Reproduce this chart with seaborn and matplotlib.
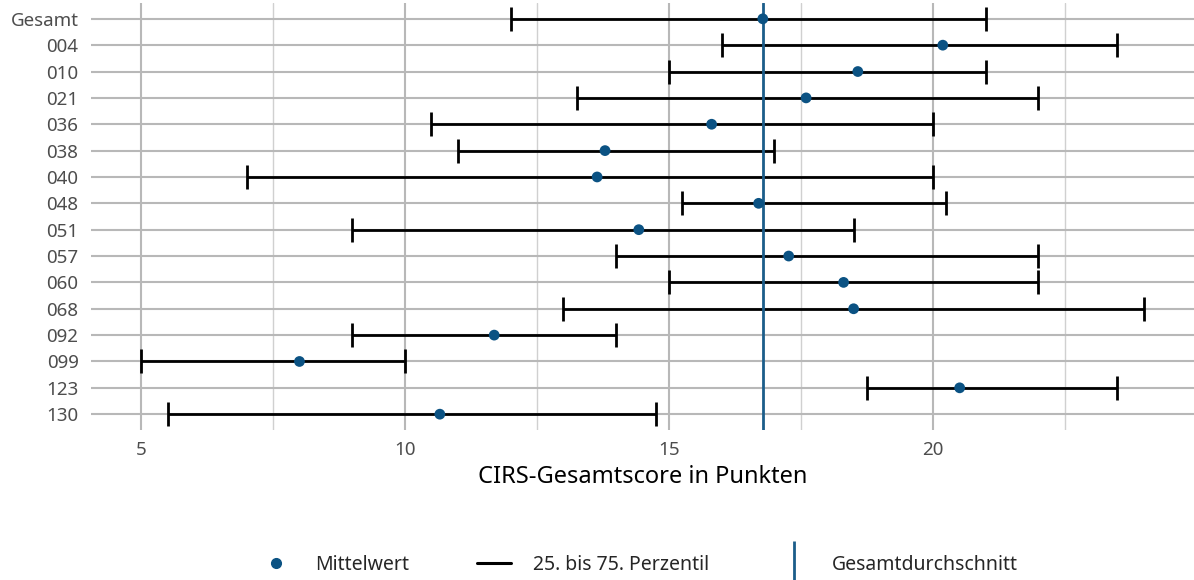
import numpy as np
import pandas as pd
import matplotlib.pyplot as plt
import seaborn as sns
from matplotlib.lines import Line2D
from matplotlib.ticker import MultipleLocator

# Values
stations = ["Gesamt", "004", "010", "021", "036", "038", "040", "048",
            "051", "057", "060", "068", "092", "099", "123", "130"]
mean_score = [16.78, 20.19, 18.58, 17.6, 15.81, 13.79, 13.64, 16.7,
              14.43, 17.27, 18.31, 18.5, 11.69, 8.0, 20.51, 10.66]
p25 = [12, 16, 15, 13.25, 10.5, 11, 7, 15.25,
       9, 14, 15, 13, 9, 5, 18.75, 5.5]
p75 = [21, 23.5, 21, 22, 20, 17, 20, 20.25,
       18.5, 22, 22, 24, 14, 10, 23.5, 14.75]

blue = "#0b5283"
line_blue = "#1b5d8a"

df = pd.DataFrame({"Station": stations, "Mittelwert": mean_score,
                   "P25": p25, "P75": p75})
df["pos"] = np.arange(len(df))

sns.set_theme(style="whitegrid")
plt.rcParams["font.family"] = ["Noto Sans", "DejaVu Sans"]

fig = plt.figure(figsize=(11.94, 5.8), dpi=100)
ax = fig.add_axes([91 / 1194, 150 / 580, 1 - 91 / 1194, 427 / 580])

# interquartile range bars
ax.errorbar(df["Mittelwert"], df["pos"],
            xerr=[df["Mittelwert"] - df["P25"], df["P75"] - df["Mittelwert"]],
            fmt="none", ecolor="black", elinewidth=2.0, capsize=8.6,
            capthick=2.0, zorder=2)

# overall mean
ax.axvline(df["Mittelwert"].iloc[0], color=line_blue, lw=2.0, zorder=3)

sns.scatterplot(data=df, x="Mittelwert", y="pos", color=blue, s=60,
                edgecolor="none", zorder=4, ax=ax, legend=False)

ax.set_xlim(4.05, 24.95)
ax.set_ylim(len(df) - 0.4, -0.6)
ax.set_xticks([5, 10, 15, 20])
ax.xaxis.set_minor_locator(MultipleLocator(2.5))
ax.set_yticks(df["pos"])
ax.set_yticklabels(df["Station"])

ax.grid(which="major", axis="both", color="#b8b8b8", lw=1.5)
ax.grid(which="minor", axis="x", color="#d0d0d0", lw=1.0)
ax.set_axisbelow(True)
for s in ax.spines.values():
    s.set_visible(False)
ax.tick_params(axis="both", which="both", length=0, labelsize=13.5,
               labelcolor="#4d4d4d")
ax.tick_params(axis="x", pad=8)
ax.tick_params(axis="y", pad=9)

ax.set_xlabel("CIRS-Gesamtscore in Punkten", fontsize=17, color="black",
              labelpad=4)
ax.set_ylabel("")

handles = [
    Line2D([], [], color=blue, marker="o", markersize=7, linestyle="None"),
    Line2D([], [], color="black", lw=2.2),
    Line2D([], [], color=line_blue, marker="|", markersize=32,
           markeredgewidth=2, linestyle="None"),
]
labels = ["Mittelwert", "25. bis 75. Perzentil", "Gesamtdurchschnitt"]
fig.legend(handles, labels, loc="center", bbox_to_anchor=(0.535, 0.026),
           ncol=3, frameon=False, fontsize=14, handlelength=1.76,
           columnspacing=3.5, handletextpad=1.1)

fig.savefig("out.png", dpi=100)
